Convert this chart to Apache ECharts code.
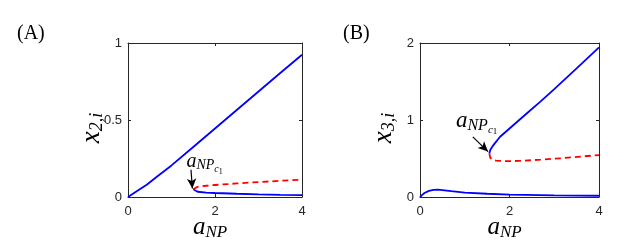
<!DOCTYPE html>
<html><head><meta charset="utf-8">
<script src="https://cdn.jsdelivr.net/npm/echarts@6/dist/echarts.min.js"></script>
<style>html,body{margin:0;padding:0;background:#fff}#c{width:634px;height:240px}</style>
</head><body><div id="c"></div>
<script>
// Panel A data (x2,i vs a_NP)
const A_upperBlue = [[0,0],[0.2,0.037],[0.43,0.08],[0.7,0.14],[1,0.205],[1.5,0.325],[2,0.445],[2.5,0.565],[3,0.685],[3.5,0.805],[4,0.924]];
const A_lowerBlue = [[1.5,0.05],[1.53,0.04],[1.6,0.034],[1.8,0.029],[2,0.026],[2.5,0.021],[3,0.017],[3.5,0.014],[4,0.012]];
const A_redDashed = [[1.5,0.05],[1.53,0.06],[1.6,0.066],[1.8,0.073],[2,0.078],[2.5,0.088],[3,0.097],[3.5,0.105],[4,0.113]];
// Panel B data (x3,i vs a_NP)
const B_upperBlue = [[1.55,0.566],[1.57,0.61],[1.64,0.674],[1.79,0.782],[2.09,0.935],[2.39,1.087],[2.69,1.239],[3,1.40],[3.5,1.67],[4,1.943]];
const B_lowerBlue = [[0,0],[0.05,0.028],[0.1,0.052],[0.2,0.08],[0.3,0.093],[0.4,0.095],[0.5,0.09],[0.7,0.076],[1,0.058],[1.5,0.042],[2,0.032],[3,0.022],[4,0.016]];
const B_redDashed = [[1.55,0.566],[1.57,0.51],[1.62,0.485],[1.7,0.472],[1.9,0.465],[2.2,0.468],[2.7,0.485],[3.2,0.505],[3.6,0.525],[4,0.545]];
// Tick values
const xTicks = [0, 2, 4];
const A_yTicks = [0, 0.5, 1];
const B_yTicks = [0, 1, 2];
// Annotation arrows (data coords: from -> to) and label anchors
const A_arrow = [[1.448, 0.177], [1.48, 0.055]];
const B_arrow = [[1.18, 0.78], [1.52, 0.59]];
const A_labelPos = [1.76, 0.135];
const B_labelPos = [1.265, 0.78];

const serif = 'Liberation Serif';
function mkRich(m, s, ss, sss, p1, p2, p3) {
  return {
    a: {fontFamily: serif, fontStyle: 'italic', fontSize: m, color: '#000'},
    s: {fontFamily: serif, fontStyle: 'italic', fontSize: s, color: '#000', padding: [p1,0,0,0]},
    ss: {fontFamily: serif, fontStyle: 'italic', fontSize: ss, color: '#000', padding: [p2,0,0,0]},
    sss: {fontFamily: serif, fontSize: sss, color: '#000', padding: [p3,0,0,0]}
  };
}
const richAxis = mkRich(25, 17, 12, 9, 10, 20, 24);
const richY = mkRich(27, 18, 12, 9, 11, 20, 24);
const richA = mkRich(20, 14, 10, 8, 8, 16, 20);
const richB = mkRich(23, 16, 11, 9, 9, 18, 22);
const tickFont = {fontFamily: 'Liberation Sans', fontSize: 13, color: '#262626'};

function xAx(gi, name) {
  return [{
    type: 'value', gridIndex: gi, min: 0, max: 4, interval: 2,
    axisLine: {show: true, onZero: false, lineStyle: {color: '#262626', width: 1}},
    axisTick: {show: true, inside: true, length: 3, lineStyle: {color: '#262626'}},
    axisLabel: Object.assign({margin: 8}, tickFont),
    splitLine: {show: false},
    name: name, nameLocation: 'middle', nameGap: 17, nameMoveOverlap: false,
    nameTextStyle: {rich: richAxis, padding: [0, 10, 0, 0]}
  }, {
    type: 'value', gridIndex: gi, min: 0, max: 4, interval: 2, position: 'top',
    axisLine: {show: true, onZero: false, lineStyle: {color: '#262626', width: 1}},
    axisTick: {show: true, inside: true, length: 3, lineStyle: {color: '#262626'}},
    axisLabel: {show: false}, splitLine: {show: false}
  }];
}
function yAx(gi, max, interval, name, fmt) {
  return [{
    type: 'value', gridIndex: gi, min: 0, max: max, interval: interval,
    axisLine: {show: true, onZero: false, lineStyle: {color: '#262626', width: 1}},
    axisTick: {show: true, inside: true, length: 3, lineStyle: {color: '#262626'}},
    axisLabel: Object.assign({margin: 6, formatter: fmt}, tickFont),
    splitLine: {show: false},
    name: name, nameLocation: 'middle', nameGap: 22, nameRotate: 90, nameMoveOverlap: false,
    nameTextStyle: {rich: richY, padding: [0, 16, 0, 0]}
  }, {
    type: 'value', gridIndex: gi, min: 0, max: max, interval: interval, position: 'right',
    axisLine: {show: true, onZero: false, lineStyle: {color: '#262626', width: 1}},
    axisTick: {show: true, inside: true, length: 3, lineStyle: {color: '#262626'}},
    axisLabel: {show: false}, splitLine: {show: false}
  }];
}
function line(data, xi, yi, color, dashed) {
  return {type: 'line', xAxisIndex: xi, yAxisIndex: yi, data: data, showSymbol: false, symbol: 'none',
    lineStyle: {color: color, width: 1.8, type: dashed ? [6,4] : 'solid'}, smooth: false,
    z: dashed ? 3 : 2, silent: true};
}
function arrowSeries(arrow, xi, yi, lp, rich) {
  return {type: 'line', xAxisIndex: xi, yAxisIndex: yi, data: [], silent: true,
    markLine: {silent: true, symbol: ['none', 'arrow'], symbolSize: [7, 10], animation: false,
      lineStyle: {color: '#000', width: 1.2, type: 'solid'}, label: {show: false},
      data: [[{coord: arrow[0]}, {coord: arrow[1]}]]},
    markPoint: {silent: true, symbol: 'rect', symbolSize: 1, itemStyle: {color: 'rgba(0,0,0,0)'},
      label: {show: true, position: 'top', distance: 0, formatter: '{a|a}{s|NP}{ss|c}{sss|1}', rich: rich},
      data: [{coord: lp}]}
  };
}
const chart = echarts.init(document.getElementById('c'), null, {renderer: 'canvas'});
const fmt = v => String(v);
chart.setOption({
  animation: false,
  grid: [
    {left: 128, top: 43, width: 174, height: 154, show: false, containLabel: false, outerBoundsMode: 'none'},
    {left: 420, top: 43, width: 179, height: 154, show: false, containLabel: false, outerBoundsMode: 'none'}
  ],
  xAxis: [...xAx(0, '{a|a}{s|NP}'), ...xAx(1, '{a|a}{s|NP}')],
  yAxis: [...yAx(0, 1, 0.5, '{a|x}{s|2,i}', fmt), ...yAx(1, 2, 1, '{a|x}{s|3,i}', fmt)],
  graphic: [
    {type: 'text', left: 17, top: 24, style: {text: '(A)', font: '20px "Liberation Serif"', fill: '#000'}},
    {type: 'text', left: 343, top: 24, style: {text: '(B)', font: '20px "Liberation Serif"', fill: '#000'}}
  ],
  series: [
    line(A_upperBlue, 0, 0, '#0000ff', false),
    line(A_lowerBlue, 0, 0, '#0000ff', false),
    line(A_redDashed, 0, 0, '#ff0000', true),
    line(B_upperBlue, 2, 2, '#0000ff', false),
    line(B_lowerBlue, 2, 2, '#0000ff', false),
    line(B_redDashed, 2, 2, '#ff0000', true),
    arrowSeries(A_arrow, 0, 0, A_labelPos, richA),
    arrowSeries(B_arrow, 2, 2, B_labelPos, richB)
  ]
});
</script></body></html>
